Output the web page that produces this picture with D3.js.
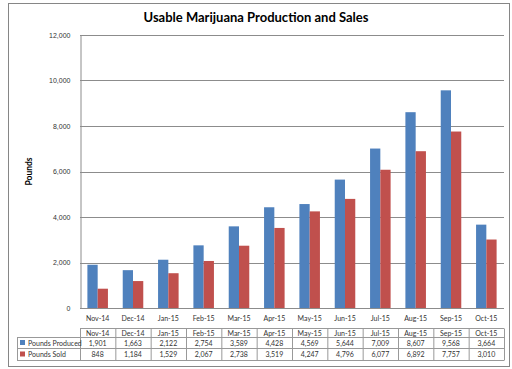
<!DOCTYPE html>
<html>
<head>
<meta charset="utf-8">
<script src="https://cdn.jsdelivr.net/npm/d3@7"></script>
<style>
  body { margin: 0; background: #fff; }
  svg { font-family: Lato, "Open Sans", sans-serif; }
</style>
</head>
<body>
<svg id="chart" width="512" height="369"></svg>
<script>
const months = ["Nov-14", "Dec-14", "Jan-15", "Feb-15", "Mar-15", "Apr-15",
  "May-15", "Jun-15", "Jul-15", "Aug-15", "Sep-15", "Oct-15"];
const produced = [1901, 1663, 2122, 2754, 3589, 4428, 4569, 5644, 7009, 8607, 9568, 3664];
const sold = [848, 1184, 1529, 2067, 2738, 3519, 4247, 4796, 6077, 6892, 7757, 3010];
const seriesNames = ["Pounds Produced", "Pounds Sold"];
const yTicks = [0, 2000, 4000, 6000, 8000, 10000, 12000];

const colors = ["#4f81bd", "#c0504d"];
const plot = {left: 80, right: 504, top: 35, bottom: 308};
const fmt = d3.format(",");

let svg = d3.select("#chart");

// outer frame
svg.append("rect")
  .attr("x", 8.5).attr("y", 3.5).attr("width", 501).attr("height", 363)
  .attr("fill", "#fff").attr("stroke", "#868686").attr("stroke-width", 1);

svg.append("text")
  .attr("x", 256).attr("y", 22)
  .attr("text-anchor", "middle")
  .attr("font-weight", "bold").attr("font-size", 13)
  .text("Usable Marijuana Production and Sales");

let xScale = d3.scaleBand().domain(months).range([plot.left, plot.right]);
let xInner = d3.scaleBand().domain(seriesNames)
  .range([0, xScale.bandwidth()]).paddingInner(0).paddingOuter(0.72);
let yScale = d3.scaleLinear().domain([0, 12000]).range([plot.bottom, plot.top]);

// grid
svg.append("g")
  .selectAll("line")
  .data(yTicks.slice(1))
  .enter()
  .append("line")
  .attr("x1", plot.left).attr("x2", plot.right)
  .attr("y1", function(d) { return Math.round(yScale(d)) + 0.5; })
  .attr("y2", function(d) { return Math.round(yScale(d)) + 0.5; })
  .attr("stroke", "#8c8c8c");

let yAxis = d3.axisLeft(yScale).tickValues(yTicks).tickFormat(fmt).tickSize(0).tickPadding(10);
let yG = svg.append("g")
  .attr("transform", "translate(" + (plot.left + 0.5) + ",0)")
  .call(yAxis);
yG.select(".domain").attr("stroke", "#8c8c8c");
yG.selectAll("text").attr("font-size", 7).attr("fill", "#333");

svg.append("line")
  .attr("x1", plot.left).attr("x2", plot.right)
  .attr("y1", plot.bottom + 0.5).attr("y2", plot.bottom + 0.5)
  .attr("stroke", "#8c8c8c");

svg.append("text")
  .attr("transform", "translate(32," + ((plot.top + plot.bottom) / 2) + ") rotate(-90)")
  .attr("text-anchor", "middle")
  .attr("font-weight", "bold").attr("font-size", 8.5)
  .text("Pounds");

// bars
let series = [produced, sold];
series.forEach(function(vals, si) {
  svg.append("g")
    .selectAll("rect")
    .data(vals)
    .enter()
    .append("rect")
    .attr("x", function(d, i) { return xScale(months[i]) + xInner(seriesNames[si]); })
    .attr("y", function(d) { return yScale(d); })
    .attr("width", xInner.bandwidth())
    .attr("height", function(d) { return plot.bottom - yScale(d); })
    .attr("fill", colors[si]);
});

// category labels under the axis
svg.append("g")
  .selectAll("text")
  .data(months)
  .enter()
  .append("text")
  .attr("x", function(d) { return xScale(d) + xScale.bandwidth() / 2; })
  .attr("y", 321)
  .attr("text-anchor", "middle")
  .attr("font-size", 7).attr("fill", "#333")
  .text(function(d) { return d; });

// data table
const rows = [328.5, 337.5, 348.5, 360.5];
const tableLeft = 17;
let table = svg.append("g").attr("stroke", "#999").attr("fill", "none");
table.append("line").attr("x1", plot.left).attr("x2", plot.right).attr("y1", rows[0]).attr("y2", rows[0]);
rows.slice(1).forEach(function(y) {
  table.append("line").attr("x1", tableLeft).attr("x2", plot.right).attr("y1", y).attr("y2", y);
});
table.append("line").attr("x1", tableLeft + 0.5).attr("x2", tableLeft + 0.5).attr("y1", rows[1]).attr("y2", rows[3]);
months.concat(["end"]).forEach(function(m, i) {
  let x = (i < months.length ? xScale(m) : plot.right) + 0.5;
  table.append("line").attr("x1", x).attr("x2", x).attr("y1", rows[0]).attr("y2", rows[3]);
});

svg.append("g")
  .selectAll("text")
  .data(months)
  .enter()
  .append("text")
  .attr("x", function(d) { return xScale(d) + xScale.bandwidth() / 2; })
  .attr("y", 335.5)
  .attr("text-anchor", "middle")
  .attr("font-size", 7).attr("fill", "#333")
  .text(function(d) { return d; });

series.forEach(function(vals, si) {
  let rowY = (rows[si + 1] + rows[si + 2]) / 2 + 2.5;
  svg.append("rect")
    .attr("x", 20).attr("y", rowY - 5.5).attr("width", 5).attr("height", 5)
    .attr("fill", colors[si]);
  svg.append("text")
    .attr("x", 28).attr("y", rowY)
    .attr("font-size", 7).attr("fill", "#333")
    .text(seriesNames[si]);
  svg.append("g")
    .selectAll("text")
    .data(vals)
    .enter()
    .append("text")
    .attr("x", function(d, i) { return xScale(months[i]) + xScale.bandwidth() / 2; })
    .attr("y", rowY)
    .attr("text-anchor", "middle")
    .attr("font-size", 7).attr("fill", "#333")
    .text(function(d) { return fmt(d); });
});
</script>
</body>
</html>
